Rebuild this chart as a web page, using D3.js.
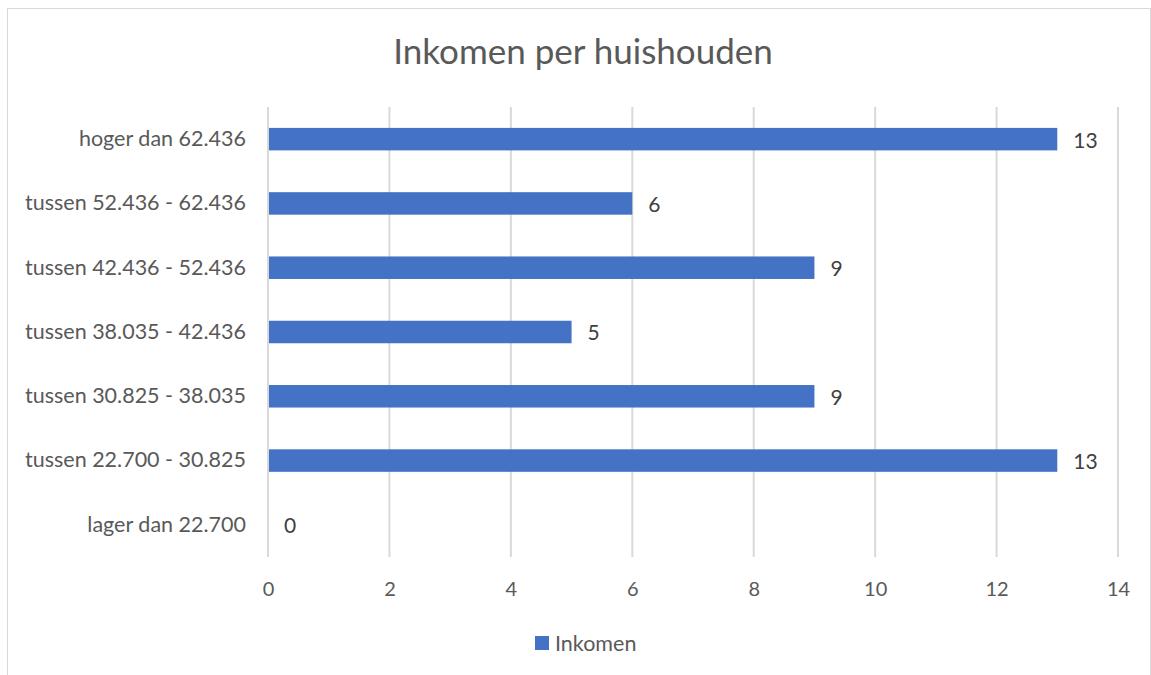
<!DOCTYPE html>
<html>
<head>
<meta charset="utf-8">
<script src="https://cdn.jsdelivr.net/npm/d3@7"></script>
<style>
  body { margin: 0; background: #fff; }
  svg { font-family: Lato, "Open Sans", sans-serif; }
</style>
</head>
<body>
<svg id="chart"></svg>
<script>
const categories = [
  "hoger dan 62.436",
  "tussen 52.436 - 62.436",
  "tussen 42.436 - 52.436",
  "tussen 38.035 - 42.436",
  "tussen 30.825 - 38.035",
  "tussen 22.700 - 30.825",
  "lager dan 22.700"
];
const values = [13, 6, 9, 5, 9, 13, 0];
const xTicks = [0, 2, 4, 6, 8, 10, 12, 14];
const seriesName = "Inkomen";

const width = 1151;
const height = 675;
const margin = { top: 107, right: 33, bottom: 118, left: 268 };
const textColor = "#595959";
const barColor = "#4472C4";

const svg = d3.select("#chart").attr("width", width).attr("height", height);

// chart border
svg.append("rect")
  .attr("x", 7.5).attr("y", 8.5)
  .attr("width", width - 8).attr("height", height)
  .attr("fill", "none").attr("stroke", "#d9d9d9");

const xScale = d3.scaleLinear()
  .domain([0, 14])
  .range([margin.left, width - margin.right]);

const yScale = d3.scaleBand()
  .domain(categories)
  .range([margin.top, height - margin.bottom])
  .paddingInner(0.65)
  .paddingOuter(0.325);

// title
svg.append("text")
  .attr("x", 583).attr("y", 64)
  .attr("text-anchor", "middle")
  .attr("fill", textColor)
  .style("font-size", "35px")
  .text("Inkomen per huishouden");

// gridlines
svg.append("g")
  .selectAll("line")
  .data(xTicks)
  .join("line")
  .attr("x1", (d) => xScale(d)).attr("x2", (d) => xScale(d))
  .attr("y1", margin.top).attr("y2", height - margin.bottom)
  .attr("stroke", "#d9d9d9").attr("stroke-width", 2);

// x axis labels
const xAxis = d3.axisBottom(xScale).tickValues(xTicks).tickSize(0).tickPadding(25);
svg.append("g")
  .attr("transform", `translate(0, ${height - margin.bottom})`)
  .call(xAxis)
  .call((g) => g.select(".domain").remove())
  .call((g) => g.selectAll("text").attr("fill", textColor).style("font-size", "20px").style("font-family", "Lato, sans-serif"));

// y axis labels
const yAxis = d3.axisLeft(yScale).tickSize(0).tickPadding(22);
svg.append("g")
  .attr("transform", `translate(${margin.left}, 0)`)
  .call(yAxis)
  .call((g) => g.select(".domain").remove())
  .call((g) => g.selectAll("text").attr("fill", textColor).style("font-size", "21.5px").style("font-family", "Lato, sans-serif"));

// bars
svg.append("g")
  .selectAll("rect")
  .data(values)
  .join("rect")
  .attr("x", xScale(0) + 1)
  .attr("y", (d, i) => yScale(categories[i]))
  .attr("width", (d) => Math.max(0, xScale(d) - xScale(0) - 1))
  .attr("height", yScale.bandwidth())
  .attr("fill", barColor);

// data labels
svg.append("g")
  .selectAll("text")
  .data(values)
  .join("text")
  .attr("x", (d) => xScale(d) + 16)
  .attr("y", (d, i) => yScale(categories[i]) + yScale.bandwidth() / 2)
  .attr("dy", "0.4em")
  .attr("fill", "#404040")
  .style("font-size", "21px")
  .text((d) => d);

// legend
const legend = svg.append("g").attr("transform", "translate(535, 636)");
legend.append("rect")
  .attr("width", 14).attr("height", 14)
  .attr("fill", barColor);
legend.append("text")
  .attr("x", 20).attr("y", 7)
  .attr("dy", "0.35em")
  .attr("fill", textColor)
  .style("font-size", "21.5px")
  .text(seriesName);
</script>
</body>
</html>
